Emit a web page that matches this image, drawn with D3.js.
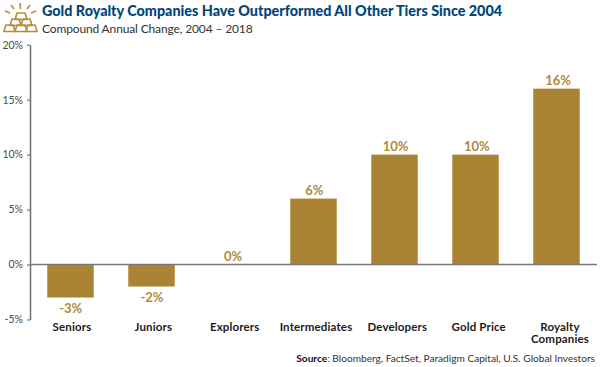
<!DOCTYPE html>
<html>
<head>
<meta charset="utf-8">
<script src="https://cdn.jsdelivr.net/npm/d3@7"></script>
<style>
  html, body { margin: 0; padding: 0; background: #fff; }
  svg { display: block; }
  text { font-family: Lato, "Open Sans", sans-serif; }
  .axis text { font-size: 10.5px; fill: #4a4a4a; }
  .axis path, .axis line { stroke: #777; }
</style>
</head>
<body>
<svg width="600" height="367"></svg>
<script>
var categories = [["Seniors"], ["Juniors"], ["Explorers"], ["Intermediates"], ["Developers"], ["Gold Price"], ["Royalty", "Companies"]];
var values = [-3, -2, 0, 6, 10, 10, 16];
var yTicks = [-5, 0, 5, 10, 15, 20];

var svg = d3.select("svg"),
    margin = {top: 44.7, right: 3, bottom: 47.5, left: 30},
    width = +svg.attr("width") - margin.left - margin.right,
    height = +svg.attr("height") - margin.top - margin.bottom;

var gold = "#aa8434", goldText = "#b08a3a";

var x = d3.scaleBand().domain(d3.range(categories.length)).range([0, width]).paddingInner(0.426).paddingOuter(0.213),
    y = d3.scaleLinear().domain([-5, 20]).range([height, 0]);

// the text labels drift a little right of the bars in the original
var valueX = d3.scaleLinear().domain([0, 6]).range([40.7, 528]),
    catX = d3.scaleLinear().domain([0, 6]).range([42, 530]);

var g = svg.append("g")
    .attr("transform", "translate(" + margin.left + "," + margin.top + ")");

// bars first so the axis lines sit over them
g.selectAll(".bar")
  .data(values)
  .enter().append("rect")
    .attr("class", "bar")
    .attr("x", function(d, i) { return x(i); })
    .attr("y", function(d) { return y(Math.max(d, 0)); })
    .attr("width", x.bandwidth())
    .attr("height", function(d) { return Math.abs(y(d) - y(0)); })
    .attr("fill", gold);

var yAxis = g.append("g")
    .attr("class", "axis")
    .call(d3.axisLeft(y).tickValues(yTicks).tickSize(3).tickSizeOuter(0).tickPadding(4).tickFormat(function(d) { return d + "%"; }));
yAxis.select("path").attr("stroke-width", 1.6);
yAxis.selectAll("line").attr("stroke-width", 1.2);

// zero line
g.append("line")
    .attr("x1", 0)
    .attr("x2", width)
    .attr("y1", y(0))
    .attr("y2", y(0))
    .attr("stroke", "#777")
    .attr("stroke-width", 1.6);

// value labels
g.selectAll(".val")
  .data(values)
  .enter().append("text")
    .attr("class", "val")
    .attr("x", function(d, i) { return valueX(i); })
    .attr("y", function(d) { return d < 0 ? y(d) + 15 : y(d) - 4; })
    .attr("text-anchor", "middle")
    .attr("font-size", "13px")
    .attr("font-weight", 700)
    .attr("fill", goldText)
    .text(function(d) { return d + "%"; });

// category labels
g.selectAll(".cat")
  .data(categories)
  .enter().append("text")
    .attr("class", "cat")
    .attr("text-anchor", "middle")
    .attr("font-size", "11.5px")
    .attr("font-weight", 700)
    .attr("letter-spacing", "0.15px")
    .attr("fill", "#1c1c1c")
    .each(function(d, i) {
      d3.select(this).selectAll("tspan")
        .data(d)
        .enter().append("tspan")
          .attr("x", catX(i))
          .attr("y", function(t, j) { return 286.5 + j * 11.5; })
          .text(function(t) { return t; });
    });

// title block
svg.append("text")
    .attr("x", 42)
    .attr("y", 16)
    .attr("font-size", "14.35px")
    .attr("font-weight", 900)
    .attr("fill", "#00457c")
    .text("Gold Royalty Companies Have Outperformed All Other Tiers Since 2004");

svg.append("text")
    .attr("x", 42)
    .attr("y", 33)
    .attr("font-size", "12px")
    .attr("letter-spacing", "-0.14px")
    .attr("fill", "#333")
    .text("Compound Annual Change, 2004 \u2013 2018");

// source line
var src = svg.append("text")
    .attr("x", 595)
    .attr("y", 362)
    .attr("text-anchor", "end")
    .attr("font-size", "10.15px")
    .attr("fill", "#333");
src.append("tspan").attr("font-weight", 700).attr("fill", "#111").text("Source");
src.append("tspan").text(": Bloomberg, FactSet, Paradigm Capital, U.S. Global Investors");

// gold bars icon
var icon = svg.append("g").attr("fill", "none").attr("stroke", "#b58e3d").attr("stroke-width", 1.6);
var bricks = [[15, 13, 12], [10, 19, 11], [21, 19, 11], [4, 25, 11], [15, 25, 12], [26, 25, 11]];
bricks.forEach(function(b) {
  icon.append("path").attr("d", "M" + (b[0] + 2) + "," + b[1] + "h" + (b[2] - 4) + "l2," + 6.5 + "h-" + b[2] + "z");
});
var rays = [[20, 3, 20.5, 9], [11, 5, 14, 9], [30, 5, 27, 9], [5, 11, 10, 13], [36, 11, 31, 13]];
rays.forEach(function(r) {
  icon.append("line").attr("x1", r[0]).attr("y1", r[1]).attr("x2", r[2]).attr("y2", r[3]);
});
</script>
</body>
</html>
